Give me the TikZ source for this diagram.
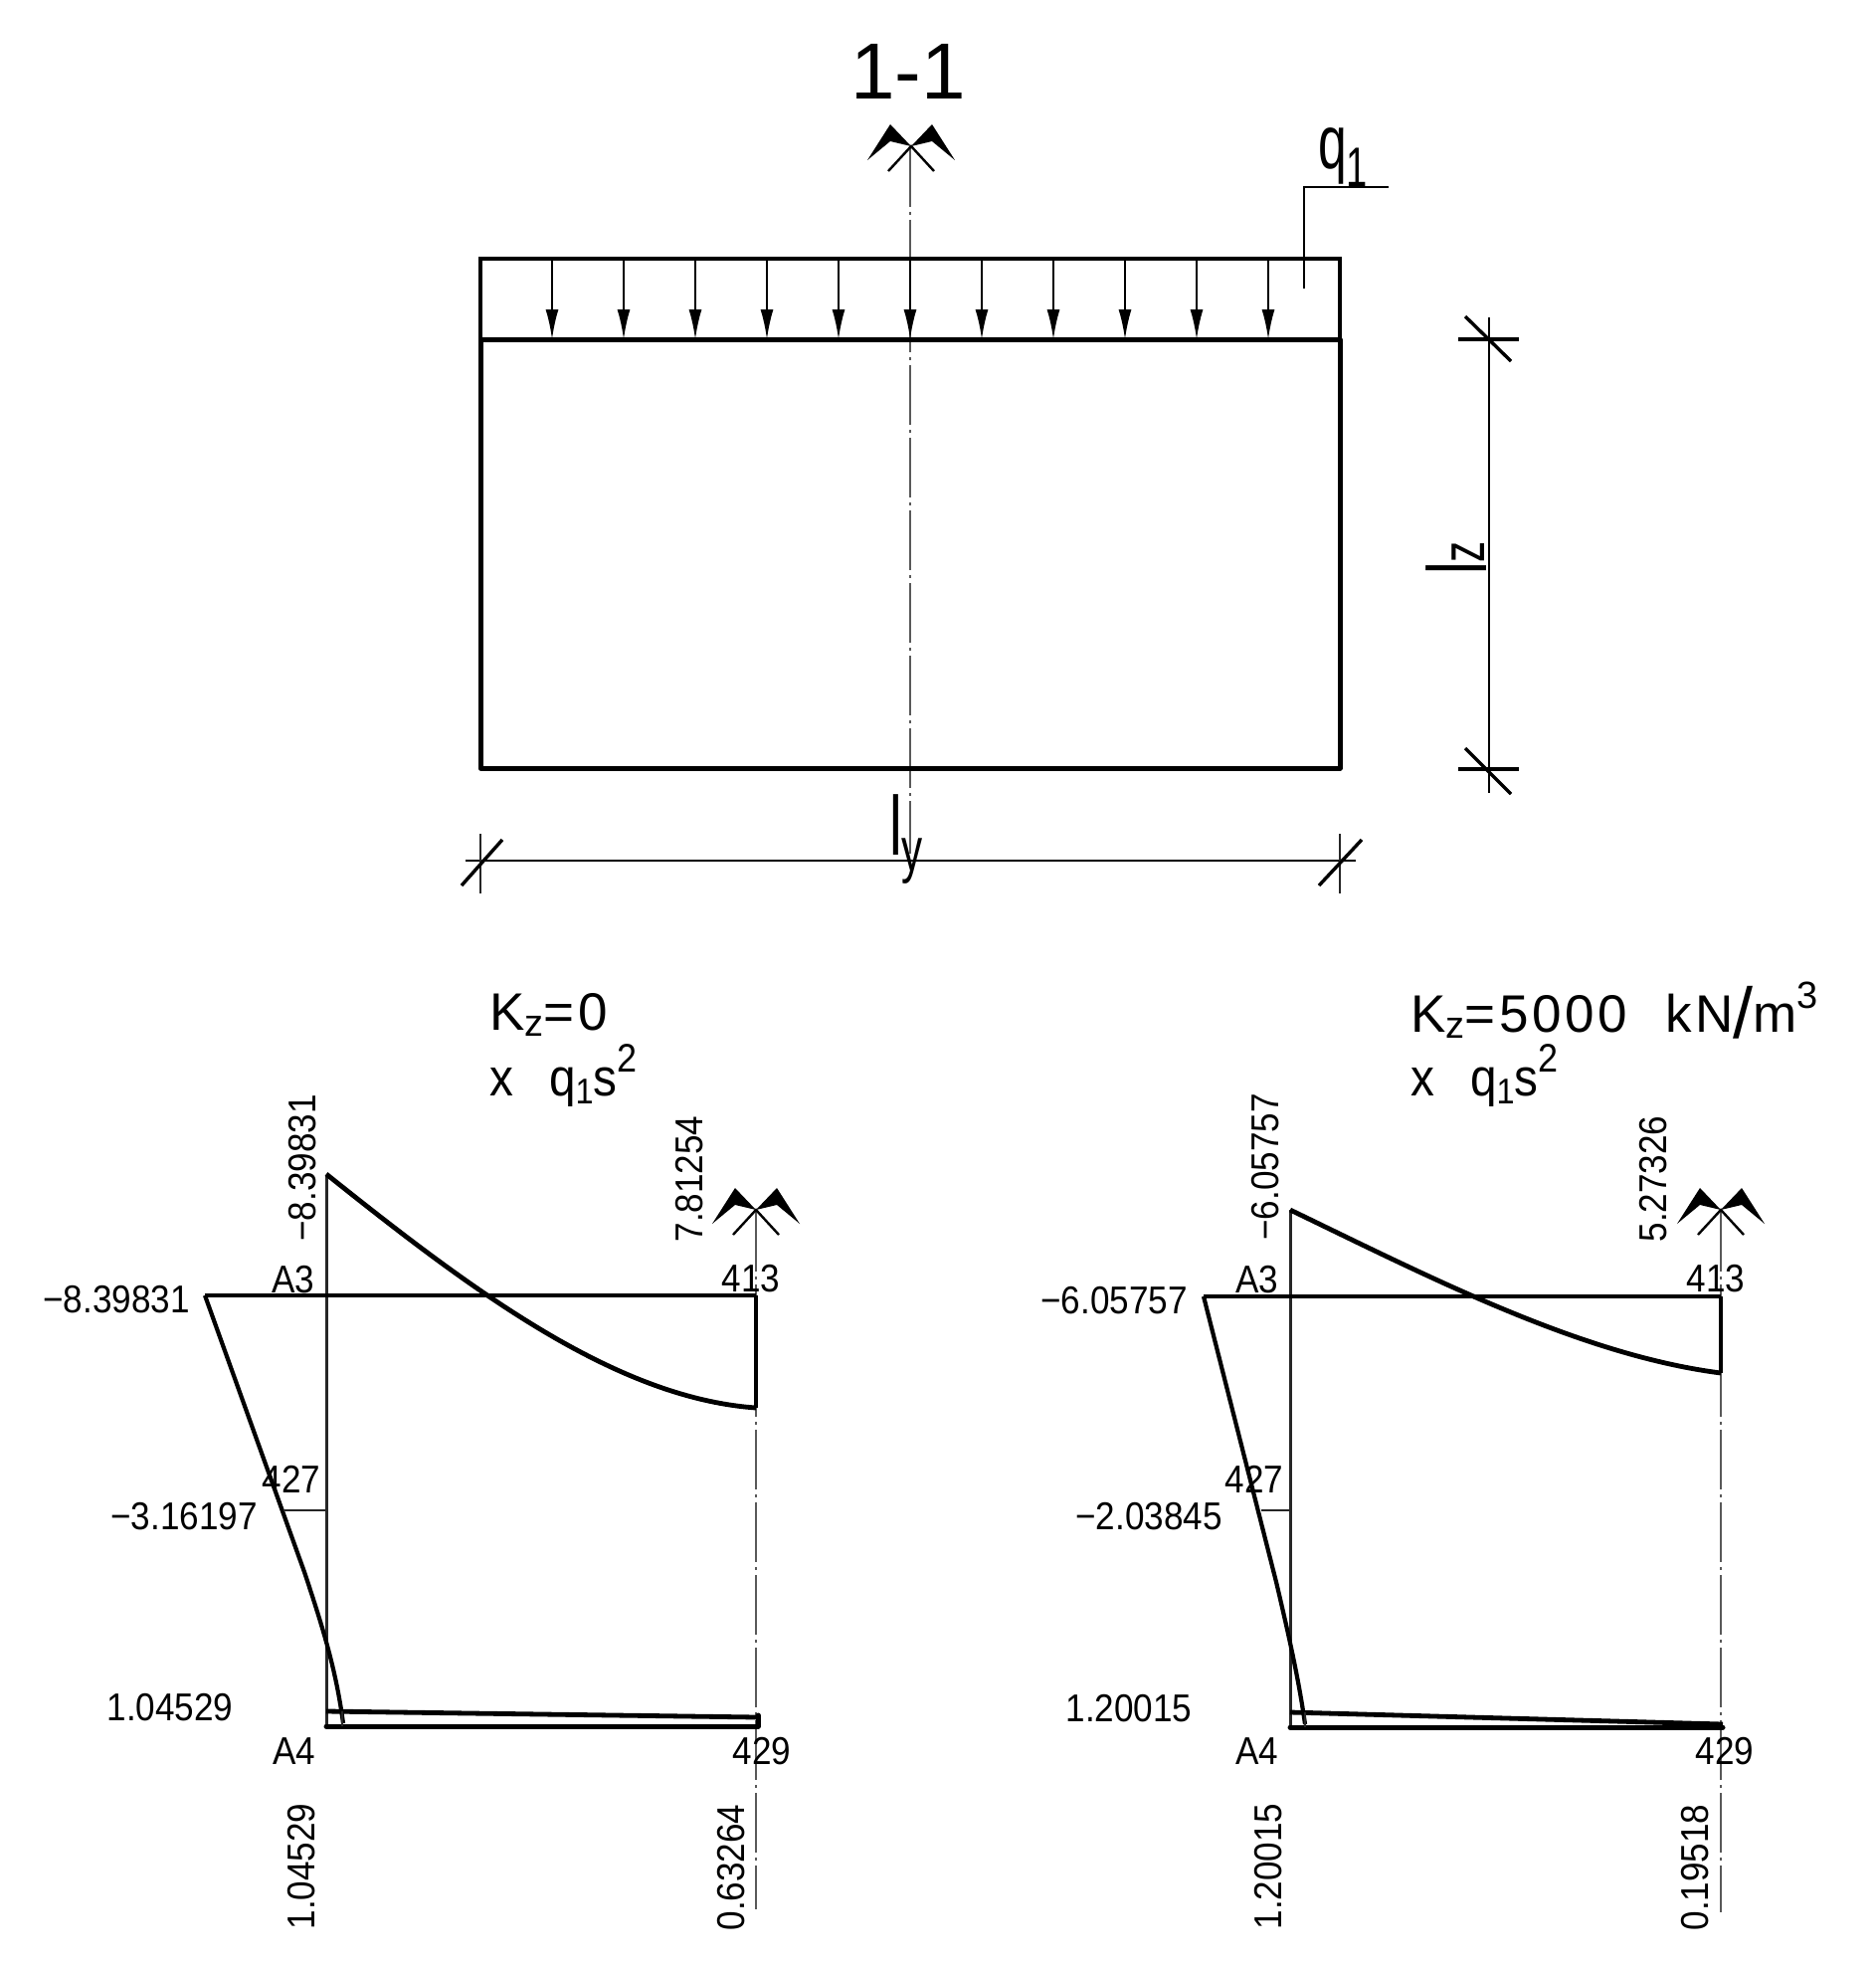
\documentclass[tikz,border=0pt]{standalone}
\usepackage{fontspec}
\usepackage{graphicx}
\usetikzlibrary{arrows.meta}
\setmainfont[FakeStretch=0.9]{Liberation Sans}
\newfontfamily\bigcad[FakeStretch=1.0]{Liberation Sans}
\newfontfamily\narrowcad[FakeStretch=0.68]{Liberation Sans}
\newfontfamily\spacedcad[LetterSpace=7]{Liberation Sans}
\newcommand{\fs}[1]{\fontsize{#1}{#1}\selectfont}
\newcommand{\lowered}[3]{\raisebox{-#1pt}{\fs{#2}#3}}
\newcommand{\raised}[3]{\raisebox{#1pt}{\fs{#2}#3}}
\tikzset{
  x=1pt,y=-1pt,
  thinline/.style={line width=2.4pt,black!85},
  medline/.style={line width=3.2pt,black},
  heavy/.style={line width=5pt,black,line cap=round,line join=round},
  curveline/.style={line width=4.8pt,black,line join=round},
  centerline/.style={line width=1.6pt,black!65,dash pattern=on 60pt off 5pt on 3pt off 5pt},
  loadarrow/.style={line width=2pt,black,-{Latex[length=30pt,width=13pt]}},
  num/.style={inner sep=0pt,font=\fs{39}},
  numv/.style={num,rotate=90},
  title/.style={inner sep=0pt,anchor=base west,font=\fs{53}},
  secmark/.pic={
    \fill[black] (-21,-22) -- (-44,14) -- (-21,-5) -- (0,0) -- cycle;
    \fill[black] (21,-22) -- (44,14) -- (21,-5) -- (0,0) -- cycle;
    \draw[line width=2.4pt,black] (-23,25) -- (0,0) -- (23,25);
  }
}
\begin{document}
\begin{tikzpicture}
\useasboundingbox (0,0) rectangle (1886,1977);
% ---- top panel
\coordinate (lt) at (483,260); \coordinate (rt) at (1347,260);
\coordinate (bl) at (483,341); \coordinate (br) at (1347,341);
\coordinate (fl) at (483,772); \coordinate (fr) at (1347,772);
\draw[centerline] (915,148) -- (915,858);
\draw[medline] (bl) -- (lt) -- (rt) -- (br);
\draw[heavy] (br) -- (bl) -- (fl) -- (fr) -- cycle;
\foreach \i/\xx in {1/555,2/627,3/699,4/771,5/843,6/915,7/987,8/1059,9/1131,10/1203,11/1275}{
  \coordinate (t\i) at (\xx,260);
  \coordinate (h\i) at (\xx,341);
  \draw[loadarrow] (t\i) -- (h\i);
}
\pic at (916,147) {secmark};
\node[inner sep=0pt,font=\bigcad\fs{80}] (sect) at (913,72) {1-1};
% load leader
\coordinate (q0) at (1311,290); \coordinate (q1) at (1311,188); \coordinate (q2) at (1396,188);
\draw[line width=2.8pt] (q0) -- (q1) -- (q2);
\node[inner sep=0pt,anchor=base west,font=\narrowcad\fs{76}] (qlab) at (1325,170) {q\lowered{18}{56}{1}};
% dimension l_y
\coordinate (dya) at (468,865); \coordinate (dyb) at (1363,865);
\draw[line width=2.8pt] (dya) -- (dyb);
\coordinate (e1a) at (483,838); \coordinate (e1b) at (483,898);
\coordinate (e2a) at (1347,838); \coordinate (e2b) at (1347,898);
\draw[thinline] (e1a) -- (e1b);
\draw[thinline] (e2a) -- (e2b);
\coordinate (s1a) at (464,890); \coordinate (s1b) at (505,844);
\coordinate (s2a) at (1326,890); \coordinate (s2b) at (1369,844);
\draw[line width=3.4pt] (s1a) -- (s1b);
\draw[line width=3.4pt] (s2a) -- (s2b);
\node[inner sep=0pt,anchor=base west,font=\narrowcad\fs{84}] (ly) at (894,859) {l\lowered{16}{62}{y}};
% dimension l_z
\coordinate (dza) at (1497,319); \coordinate (dzb) at (1497,797);
\draw[line width=2.4pt] (dza) -- (dzb);
\coordinate (x1a) at (1466,341); \coordinate (x1b) at (1527,341);
\coordinate (x2a) at (1466,773); \coordinate (x2b) at (1527,773);
\draw[medline] (x1a) -- (x1b);
\draw[medline] (x2a) -- (x2b);
\coordinate (y1a) at (1473,318); \coordinate (y1b) at (1519,363);
\coordinate (y2a) at (1473,752); \coordinate (y2b) at (1519,798);
\draw[line width=3.4pt] (y1a) -- (y1b);
\draw[line width=3.4pt] (y2a) -- (y2b);
\node[inner sep=0pt,anchor=base west,rotate=90,font=\narrowcad\fs{84}] (lz) at (1494,578) {l\lowered{-2}{62}{z}};

% ---- left diagram
\node[title,font=\spacedcad\fs{53}] (k1) at (492,1035) {K\lowered{6}{38}{z}=0};
\node[title] (m1) at (492,1101) {x\hspace{36pt}q\lowered{8}{36}{1}s\raised{24}{40}{2}};
\coordinate (a3) at (328,1181); \coordinate (a4) at (328,1735);
\coordinate (hl) at (206,1302); \coordinate (hr) at (760,1302);
\coordinate (rb) at (760,1415);
\draw[centerline] (760,1218) -- (760,1919);
\draw[thinline,line width=3pt] (a3) -- (a4);
\draw[medline] (hl) -- (hr);
\draw[line width=4.8pt] (hr) -- (rb);
\draw[curveline] (328,1180) .. controls (478,1300) and (620,1405) .. (760,1415);
\draw[curveline,line width=4.2pt] (206,1302) -- (306,1580) .. controls (326,1640) and (338,1680) .. (345,1732);
\draw[thinline] (285,1518) -- (328,1518);
\draw[curveline] (328,1720) -- (762,1726);
\draw[heavy] (328,1735) -- (762,1735) -- (762,1724);
\draw[thinline] (344,1720) -- (344,1735);
\pic at (760,1216) {secmark};
\node[num] (n1) at (117,1306) {−8.39831};
\node[num] (n2) at (295,1286) {A3};
\node[num] (n3) at (755,1285) {413};
\node[num] (n4) at (293,1487) {427};
\node[num] (n5) at (185,1524) {−3.16197};
\node[num] (n6) at (171,1716) {1.04529};
\node[num] (n7) at (296,1760) {A4};
\node[num] (n8) at (766,1760) {429};
\node[numv] (n9) at (303,1876) {1.04529};
\node[numv] (n10) at (735,1877) {0.63264};
\node[numv] (n11) at (304,1174) {−8.39831};
\node[numv] (n12) at (693,1185) {7.81254};

% ---- right diagram
\node[title,font=\spacedcad\fs{53}] (k2) at (1418,1037) {K\lowered{6}{38}{z}=5000\hspace{38pt}kN\lowered{6}{72}{/}m\raised{24}{38}{3}};
\node[title] (m2) at (1418,1101) {x\hspace{36pt}q\lowered{8}{36}{1}s\raised{24}{40}{2}};
\coordinate (b3) at (1297,1216); \coordinate (b4) at (1297,1735);
\coordinate (gl) at (1210,1303); \coordinate (gr) at (1730,1303);
\coordinate (gb) at (1730,1380);
\draw[centerline] (1730,1218) -- (1730,1922);
\draw[thinline,line width=3pt] (b3) -- (b4);
\draw[medline] (gl) -- (gr);
\draw[line width=4.8pt] (gr) -- (gb);
\draw[curveline] (1297,1216) .. controls (1440,1285) and (1590,1362) .. (1730,1380);
\draw[curveline,line width=4.2pt] (1210,1303) -- (1283,1590) .. controls (1296,1645) and (1306,1690) .. (1312,1733);
\draw[thinline] (1268,1518) -- (1297,1518);
\draw[curveline] (1297,1721) -- (1732,1733);
\draw[heavy] (1297,1736) -- (1732,1736);
\draw[thinline] (1312,1721) -- (1312,1736);
\pic at (1730,1216) {secmark};
\node[num] (r1) at (1120,1307) {−6.05757};
\node[num] (r2) at (1264,1286) {A3};
\node[num] (r3) at (1725,1285) {413};
\node[num] (r4) at (1261,1487) {427};
\node[num] (r5) at (1155,1524) {−2.03845};
\node[num] (r6) at (1135,1717) {1.20015};
\node[num] (r7) at (1264,1760) {A4};
\node[num] (r8) at (1734,1760) {429};
\node[numv] (r9) at (1275,1876) {1.20015};
\node[numv] (r10) at (1704,1877) {0.19518};
\node[numv] (r11) at (1272,1173) {−6.05757};
\node[numv] (r12) at (1662,1185) {5.27326};
\end{tikzpicture}
\end{document}
